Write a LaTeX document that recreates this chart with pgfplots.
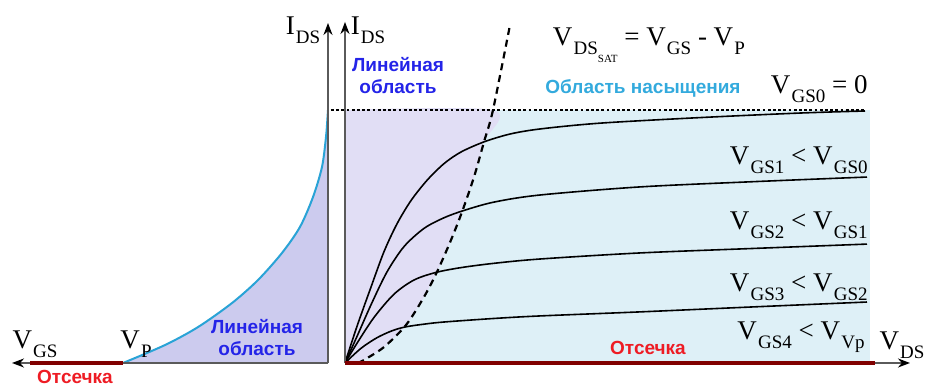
\documentclass[border=0pt]{standalone}
\usepackage{pgfplots}
\pgfplotsset{compat=1.18}
\usepackage{fontspec}
\setmainfont{Liberation Serif}
\newfontfamily\rus{Liberation Sans}
\usetikzlibrary{arrows.meta}

\definecolor{lavdark}{HTML}{CCCBEE}
\definecolor{lavlight}{HTML}{E1DEF5}
\definecolor{satblue}{HTML}{DEF0F7}
\definecolor{curveblue}{HTML}{29A3D6}
\definecolor{cutred}{HTML}{800000}
\definecolor{txtred}{HTML}{EE1C24}
\definecolor{txtblue}{HTML}{2424E8}
\definecolor{txtcyan}{HTML}{33AADD}
\definecolor{axgray}{HTML}{5A5A5A}

% symbol with a lowered subscript, upright serif
\newcommand{\lbl}[2]{#1\kern0.6pt\raisebox{-4.5pt}{\fontsize{9.5}{10}\selectfont #2}}
\newcommand{\bigsym}{\fontsize{13.5}{14}\selectfont}
\newcommand{\ru}{\rus\bfseries\fontsize{9.5}{11}\selectfont}

\pgfplotsset{
  panel/.style={
    scale only axis, axis lines=none, clip=false,
    height=193.5pt, ymin=-0.0949, ymax=1.4348,
  },
}
\tikzset{sym/.style={inner sep=0pt, font=\bigsym}}

\begin{document}
\begin{tikzpicture}
\useasboundingbox (0,0) rectangle (467pt,193.5pt);

% ---------- transfer characteristic (left) ----------
\begin{axis}[panel, at={(0pt,0pt)}, anchor=south west,
  width=170pt, xmin=-6.56, xmax=0.24]
  \addplot[draw=none, fill=lavdark] coordinates {
    (-4.10,0) (-3.26,0.071) (-2.60,0.142) (-1.92,0.237) (-1.40,0.328)
    (-0.92,0.435) (-0.56,0.538) (-0.30,0.656) (-0.12,0.775) (-0.04,0.893)
    (-0.01,0.97) (0,1.0) (0,0)
  } -- cycle;
  \addplot[curveblue, line width=1pt, smooth] coordinates {
    (-4.10,0) (-3.26,0.071) (-2.60,0.142) (-1.92,0.237) (-1.40,0.328)
    (-0.92,0.435) (-0.56,0.538) (-0.30,0.656) (-0.12,0.775) (-0.04,0.893)
    (-0.01,0.97) (0,1.0)
  };
  % axes
  \draw[axgray, line width=1pt, -{Stealth[length=6pt,width=4.5pt,black]}]
    (0,0) -- (0,1.344);
  \draw[axgray, line width=1pt, -{Stealth[length=6pt,width=4.5pt,black]}]
    (0,0) -- (-6.32,0);
  \draw[cutred, line width=1.6pt] (-4.1,0) -- (-5.96,0);
  % labels
  \node[sym] at (-0.5,1.316) {\lbl{I}{DS}};
  \node[sym] at (-5.86,0.075) {\lbl{V}{GS}};
  \node[sym] at (-3.84,0.075) {\lbl{V}{P}};
  \node[inner sep=0pt, font=\ru, text=txtred] at (-5.06,-0.055) {Отсечка};
  \node[inner sep=0pt, font=\ru, text=txtblue, align=center]
    at (-1.42,0.099) {Линейная\\область};
\end{axis}

% ---------- output characteristics (right) ----------
\begin{axis}[panel, at={(172.5pt,0pt)}, anchor=south west,
  width=294.5pt, xmin=0, xmax=11.78]
  % regions
  \addplot[draw=none, fill=satblue] coordinates {
    (0,0) (10.5,0) (10.5,1) (0,1)
  } -- cycle;
  \addplot[draw=none, fill=lavlight, smooth] coordinates {
    (0,0) (0.25,0) (0.38,0.012) (0.78,0.063) (1.22,0.150) (1.58,0.261)
    (1.84,0.36) (2.12,0.486) (2.34,0.597) (2.58,0.735) (2.78,0.874)
    (2.96,1.0) (0,1)
  } -- cycle;
  % saturation boundary V_DS,sat
  \addplot[black, line width=1.1pt, dash pattern=on 3.5pt off 2.5pt, smooth] coordinates {
    (0.25,0) (0.38,0.012) (0.78,0.063) (1.22,0.150) (1.58,0.261)
    (1.84,0.36) (2.12,0.486) (2.34,0.597) (2.58,0.735) (2.78,0.874)
    (2.96,1.0) (3.3,1.336)
  };
  % I_DS curves for V_GS0 ... V_GS3
  \addplot[black, line width=0.8pt, smooth] coordinates {
    (0,0) (0.24,0.145) (0.52,0.300) (0.78,0.440) (1.04,0.550) (1.32,0.642)
    (1.64,0.722) (1.98,0.788) (2.32,0.834) (2.78,0.874) (3.3,0.905)
    (3.9,0.925) (5.1,0.948) (7.1,0.970) (9.1,0.988) (10.4,0.996)
  };
  \addplot[black, line width=0.8pt, smooth] coordinates {
    (0,0) (0.24,0.105) (0.52,0.23) (0.84,0.36) (1.18,0.46) (1.58,0.532)
    (1.98,0.574) (2.38,0.603) (2.98,0.636) (3.9,0.664) (5.9,0.696)
    (8.2,0.717) (10.44,0.735)
  };
  \addplot[black, line width=0.8pt, smooth] coordinates {
    (0,0) (0.24,0.078) (0.58,0.180) (0.98,0.272) (1.38,0.328) (1.82,0.358)
    (2.32,0.377) (2.98,0.394) (3.9,0.411) (5.9,0.435) (8.2,0.453)
    (10.44,0.47)
  };
  \addplot[black, line width=0.8pt, smooth] coordinates {
    (0,0) (0.32,0.058) (0.64,0.100) (0.95,0.128) (1.22,0.143) (1.6,0.154)
    (1.98,0.162) (2.98,0.176) (3.9,0.186) (5.9,0.202) (8.2,0.222)
    (10.44,0.241)
  };
  % I_DSS level
  \addplot[black, line width=1.4pt, dash pattern=on 1.4pt off 1.2pt] coordinates {
    (-0.28,1) (10.4,1)
  };
  % axes
  \draw[axgray, line width=1pt, -{Stealth[length=6pt,width=4.5pt,black]}]
    (0,0) -- (0,1.348);
  \draw[axgray, line width=1pt, -{Stealth[length=6pt,width=4.5pt,black]}]
    (0,0) -- (11.3,0);
  \draw[cutred, line width=1.6pt] (0,0) -- (10.6,0);
  % labels
  \node[sym] at (0.46,1.316) {\lbl{I}{DS}};
  \node[inner sep=0pt, font=\ru, text=txtblue, align=center]
    at (1.06,1.138) {Линейная\\область};
  \node[sym] at (6.08,1.257)
    {\lbl{V}{DS\raisebox{-4pt}{\fontsize{5.5}{6}\selectfont SAT}} = \lbl{V}{GS} - \lbl{V}{P}};
  \node[inner sep=0pt, font=\ru, text=txtcyan] at (5.96,1.087) {Область насыщения};
  \node[sym, anchor=east] at (10.46,1.083) {\lbl{V}{GS0} = 0};
  \node[sym, anchor=east] at (10.46,0.802) {\lbl{V}{GS1} < \lbl{V}{GS0}};
  \node[sym, anchor=east] at (10.46,0.545) {\lbl{V}{GS2} < \lbl{V}{GS1}};
  \node[sym, anchor=east] at (10.46,0.300) {\lbl{V}{GS3} < \lbl{V}{GS2}};
  \node[sym, anchor=east] at (10.40,0.103) {\lbl{V}{GS4} < \lbl{V}{Vp}};
  \node[sym] at (11.14,0.071) {\lbl{V}{DS}};
  \node[inner sep=0pt, font=\ru, text=txtred] at (6.06,0.059) {Отсечка};
\end{axis}
\end{tikzpicture}
\end{document}
